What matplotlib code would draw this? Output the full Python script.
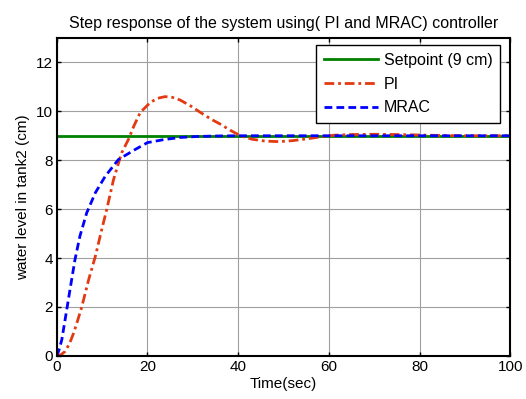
import matplotlib
matplotlib.use("Agg")
import matplotlib.pyplot as plt

plt.rcParams['font.family'] = ['Liberation Sans', 'DejaVu Sans']

setpoint_t = [0, 100]
setpoint_y = [9, 9]

pi_t = [0, 1, 1.8, 2.8, 3.7, 4.6, 5.5, 7.0, 8.5, 9.9, 11.0, 12.5, 14.3, 15.8, 17.0,
        18.4, 20.6, 22.2, 23.9, 25.5, 27.2, 29.5, 31.7, 34.0, 36.1, 38.3, 40.5,
        43, 46, 49, 52, 55, 58, 61, 65, 70, 75, 80, 85, 90, 100]
pi_y = [0, 0.06, 0.18, 0.5, 0.93, 1.45, 2.0, 3.1, 4.07, 5.16, 5.98, 7.2, 8.3, 8.85, 9.4,
        9.95, 10.36, 10.53, 10.6, 10.57, 10.46, 10.22, 9.95, 9.68, 9.47, 9.22, 9.0,
        8.86, 8.78, 8.76, 8.8, 8.87, 8.95, 9.02, 9.05, 9.06, 9.05, 9.03, 9.01, 9.0, 9.0]

mrac_t = [0, 0.5, 1.1, 2.2, 2.9, 4.0, 5.1, 6.6, 8.5, 10.7, 13.6, 17.3, 20.0, 23.5,
          27.2, 31, 35, 40, 100]
mrac_y = [0, 0.25, 0.66, 1.9, 2.7, 3.93, 4.9, 5.85, 6.67, 7.35, 8.03, 8.44, 8.72, 8.84,
          8.93, 8.97, 8.99, 9.0, 9.0]

fig = plt.figure(figsize=(5.26, 3.99), dpi=100)
ax = fig.add_axes([0.108, 0.108, 0.862, 0.797])

ax.plot(setpoint_t, setpoint_y, color='#008000', lw=2.0, label='Setpoint (9 cm)')
ax.plot(pi_t, pi_y, color='#e33a12', lw=2.0, linestyle=(0, (3.5, 1.4, 1, 1.4)), label='PI')
ax.plot(mrac_t, mrac_y, color='#0000ff', lw=2.0, linestyle=(0, (2.8, 1.5)), label='MRAC')

ax.set_xlim(0, 100)
ax.set_ylim(0, 13)
ax.set_xticks([0, 20, 40, 60, 80, 100])
ax.set_yticks([0, 2, 4, 6, 8, 10, 12])
ax.grid(True, color='#a0a0a0', lw=0.8)
ax.tick_params(direction='in', top=True, right=True, length=3, labelsize=11, width=1, pad=3)
for s in ax.spines.values():
    s.set_linewidth(1.5)

ax.set_xlabel('Time(sec)', fontsize=11, labelpad=2)
ax.set_ylabel('water level in tank2 (cm)', fontsize=11, labelpad=4)
ax.set_title('Step response of the system using( PI and MRAC) controller', fontsize=11.5, pad=7)

leg = ax.legend(loc='upper right', bbox_to_anchor=(0.978, 0.978), borderaxespad=0,
                fontsize=11.5, fancybox=False, framealpha=1,
                edgecolor='black', handlelength=3.4, handletextpad=0.35,
                labelspacing=0.55, borderpad=0.5)
leg.get_frame().set_linewidth(1.0)

fig.savefig('out.png', dpi=100)
